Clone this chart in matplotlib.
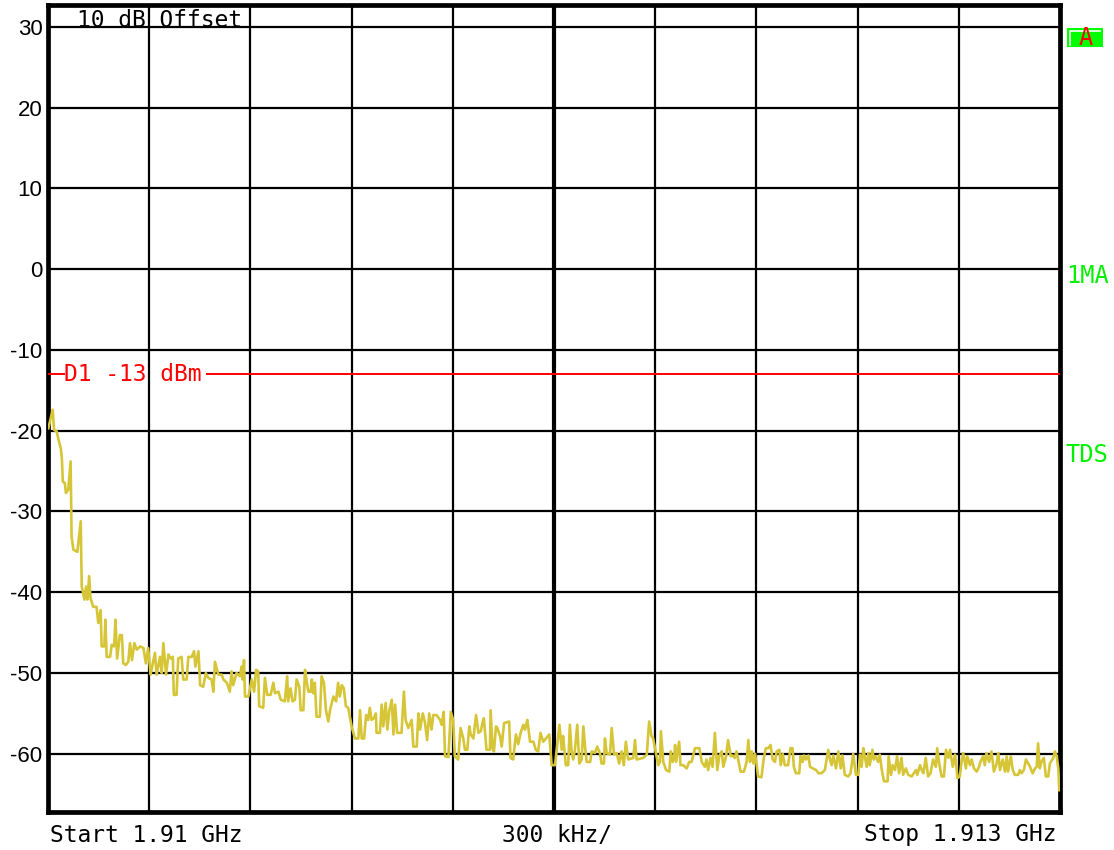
import matplotlib
matplotlib.use('Agg')
import matplotlib.pyplot as plt
from matplotlib.patches import Rectangle
from matplotlib.lines import Line2D
import numpy as np

# sweep: start 1.91 GHz, 300 kHz/div, 10 div
start_mhz = 1910.0
stop_mhz = 1913.0
y_ticks = [30, 20, 10, 0, -10, -20, -30, -40, -50, -60]
limit_dbm = -13

# trace, offset from start in kHz and level in dBm
trace_khz = [
    1, 14, 18, 26, 31, 38, 41, 44, 50, 53, 60, 67, 70, 75, 87, 97, 100, 108, 113, 117,
    122, 126, 134, 144, 149, 156, 159, 167, 170, 174, 184, 189, 196, 200, 205, 213, 219, 223, 231, 238,
    243, 249, 256, 263, 273, 283, 290, 297, 304, 317, 322, 332, 337, 342, 350, 357, 364, 370, 373, 381,
    386, 396, 401, 411, 416, 426, 433, 437, 446, 451, 460, 468, 475, 485, 490, 495, 505, 515, 520, 530,
    539, 544, 549, 559, 569, 574, 577, 581, 584, 594, 604, 611, 617, 623, 626, 638, 643, 650, 660, 668,
    673, 683, 690, 702, 709, 712, 719, 725, 732, 737, 745, 749, 757, 762, 767, 772, 779, 782, 786, 791,
    796, 806, 811, 818, 824, 831, 836, 846, 854, 860, 865, 871, 877, 883, 890, 900, 910, 920, 925, 930,
    937, 943, 949, 954, 959, 966, 972, 974, 984, 989, 994, 1001, 1006, 1012, 1019, 1024, 1029, 1035, 1048, 1055,
    1060, 1068, 1078, 1083, 1093, 1098, 1103, 1111, 1117, 1124, 1130, 1137, 1142, 1152, 1162, 1167, 1173, 1177, 1187, 1194,
    1201, 1206, 1216, 1223, 1231, 1236, 1243, 1249, 1253, 1261, 1269, 1276, 1283, 1289, 1292, 1300, 1310, 1312, 1318, 1322,
    1328, 1332, 1340, 1345, 1352, 1367, 1371, 1379, 1387, 1394, 1401, 1409, 1414, 1421, 1429, 1439, 1446, 1453, 1460, 1468,
    1476, 1486, 1493, 1503, 1508, 1516, 1523, 1527, 1535, 1542, 1547, 1552, 1557, 1562, 1569, 1575, 1582, 1587, 1592, 1597,
    1607, 1612, 1621, 1628, 1636, 1641, 1648, 1651, 1656, 1666, 1671, 1678, 1686, 1693, 1700, 1707, 1713, 1720, 1735, 1740,
    1745, 1765, 1775, 1782, 1789, 1794, 1802, 1809, 1814, 1817, 1824, 1832, 1842, 1846, 1852, 1856, 1859, 1862, 1871, 1875,
    1883, 1893, 1901, 1908, 1918, 1931, 1938, 1947, 1952, 1957, 1964, 1970, 1977, 1984, 1990, 1997, 2002, 2010, 2016, 2024,
    2029, 2036, 2041, 2046, 2053, 2063, 2071, 2076, 2081, 2086, 2091, 2096, 2101, 2105, 2115, 2122, 2128, 2135, 2142, 2148,
    2155, 2160, 2168, 2172, 2178, 2184, 2194, 2201, 2207, 2211, 2217, 2227, 2231, 2237, 2241, 2247, 2254, 2259, 2267, 2277,
    2284, 2293, 2303, 2308, 2313, 2318, 2323, 2328, 2336, 2343, 2350, 2355, 2362, 2372, 2379, 2387, 2395, 2402, 2407, 2412,
    2417, 2422, 2427, 2432, 2436, 2444, 2448, 2454, 2461, 2466, 2471, 2478, 2489, 2492, 2499, 2504, 2511, 2517, 2523, 2530,
    2535, 2543, 2550, 2560, 2567, 2573, 2577, 2585, 2590, 2595, 2602, 2609, 2616, 2624, 2632, 2636, 2642, 2649, 2656, 2662,
    2669, 2674, 2682, 2689, 2696, 2703, 2708, 2713, 2721, 2725, 2733, 2738, 2745, 2753, 2760, 2764, 2772, 2777, 2782, 2790,
    2797, 2804, 2812, 2817, 2822, 2830, 2837, 2842, 2846, 2854, 2860, 2866, 2876, 2881, 2886, 2893, 2899, 2906, 2911, 2919,
    2926, 2931, 2935, 2940, 2945, 2952, 2958, 2965, 2970, 2980, 2985, 2990, 2995, 2998,
]
trace_dbm = [
    -19.7, -17.4, -19.9, -20.1, -21.1, -22.2, -23.4, -26.3, -26.5, -27.7, -27.3, -23.8, -33.1, -34.7, -35.0, -31.2, -39.3, -40.9, -39.3, -40.9,
    -38.0, -40.7, -41.8, -41.8, -43.8, -42.2, -46.7, -46.7, -43.4, -48.0, -48.0, -46.5, -46.7, -43.4, -48.2, -45.3, -45.3, -48.8, -49.0, -48.6,
    -46.3, -48.4, -46.3, -47.1, -46.7, -46.9, -48.8, -46.9, -50.2, -47.5, -50.2, -48.0, -50.0, -46.3, -50.2, -47.7, -48.2, -48.0, -52.7, -52.7,
    -48.2, -48.0, -50.8, -50.8, -48.0, -48.0, -47.3, -49.2, -47.3, -51.5, -51.7, -50.0, -50.6, -50.8, -52.3, -48.6, -50.2, -50.2, -50.8, -51.2,
    -52.3, -49.8, -51.5, -50.0, -50.4, -49.2, -50.8, -48.4, -52.9, -52.9, -50.8, -52.3, -49.6, -49.8, -54.1, -54.3, -50.6, -52.7, -52.7, -51.2,
    -52.5, -52.3, -53.3, -53.5, -50.4, -53.5, -51.9, -53.5, -53.3, -50.8, -51.7, -54.6, -54.6, -49.6, -51.1, -52.3, -52.3, -50.8, -52.5, -51.2,
    -55.4, -55.4, -50.4, -51.2, -54.6, -56.0, -54.6, -52.9, -53.5, -51.2, -52.9, -51.5, -51.9, -54.1, -54.3, -56.6, -58.1, -58.1, -54.6, -58.1,
    -58.1, -55.2, -55.8, -54.3, -55.8, -55.6, -55.0, -57.4, -57.4, -53.9, -56.6, -53.7, -57.0, -54.6, -53.3, -57.6, -53.9, -57.4, -57.4, -52.3,
    -55.8, -56.8, -55.8, -59.1, -59.1, -55.0, -57.0, -55.0, -56.0, -58.3, -55.0, -57.0, -55.2, -55.2, -55.8, -56.4, -54.8, -60.3, -60.4, -54.8,
    -55.8, -60.3, -60.7, -56.8, -58.1, -59.5, -59.5, -56.6, -57.6, -58.1, -55.2, -57.4, -57.2, -56.0, -55.6, -59.5, -59.5, -54.6, -59.3, -59.7,
    -56.6, -56.8, -57.8, -59.1, -56.2, -56.0, -60.5, -60.7, -57.6, -58.8, -57.4, -56.4, -57.0, -55.8, -58.5, -58.5, -59.5, -59.7, -57.4, -58.5,
    -58.1, -57.6, -61.4, -61.4, -59.5, -56.4, -59.5, -57.8, -61.4, -61.4, -56.4, -59.7, -60.7, -59.5, -56.4, -61.2, -60.7, -56.6, -59.1, -61.0,
    -61.0, -59.7, -59.9, -59.1, -59.9, -61.2, -61.2, -58.1, -59.9, -60.1, -56.8, -60.1, -59.9, -61.2, -59.7, -61.4, -58.5, -60.7, -60.5, -58.3,
    -60.7, -60.5, -60.1, -56.0, -57.8, -58.1, -59.9, -61.4, -61.0, -57.2, -61.0, -62.0, -62.2, -59.7, -61.0, -60.5, -58.9, -61.0, -58.5, -61.4,
    -61.4, -61.8, -61.0, -61.0, -59.3, -59.3, -61.0, -61.6, -60.7, -62.0, -60.5, -61.6, -57.4, -62.0, -60.3, -59.7, -61.6, -60.3, -58.3, -60.3,
    -60.2, -60.5, -59.7, -60.7, -62.2, -62.2, -61.0, -58.3, -61.0, -59.7, -61.2, -60.0, -61.4, -62.8, -62.9, -60.5, -59.3, -59.3, -58.9, -60.7,
    -61.0, -59.7, -59.5, -61.4, -60.0, -61.4, -61.4, -59.3, -59.3, -61.6, -62.4, -62.4, -60.3, -61.0, -60.2, -60.7, -60.2, -61.6, -61.8, -62.0,
    -62.4, -62.4, -62.0, -60.7, -59.5, -60.7, -61.4, -60.2, -61.8, -59.7, -61.8, -60.2, -62.6, -62.8, -62.4, -60.0, -62.6, -62.6, -60.1, -61.6,
    -59.3, -60.5, -61.6, -59.9, -61.4, -59.5, -60.7, -60.3, -61.0, -60.1, -61.8, -63.4, -63.4, -60.3, -62.6, -61.4, -62.0, -60.3, -62.4, -60.5,
    -62.6, -61.8, -62.6, -62.8, -62.4, -62.0, -62.6, -61.4, -62.0, -62.4, -60.5, -62.8, -62.4, -60.7, -61.6, -59.3, -61.2, -62.8, -62.8, -59.5,
    -60.5, -59.5, -61.6, -60.1, -63.0, -62.8, -61.0, -59.9, -61.8, -60.3, -61.4, -60.7, -61.8, -62.2, -61.6, -61.0, -60.3, -61.4, -59.9, -61.0,
    -59.7, -62.2, -61.2, -59.9, -62.0, -60.7, -62.2, -60.3, -62.2, -60.3, -62.0, -62.6, -62.6, -62.0, -62.4, -62.0, -60.7, -61.2, -61.6, -62.4,
    -61.8, -61.6, -58.7, -61.8, -61.0, -60.5, -62.8, -62.8, -61.2, -60.5, -59.7, -60.3, -61.8, -64.5,
]

trace_color = '#d6c637'
green = '#00f000'
mono = ['DejaVu Sans Mono']

fig = plt.figure(figsize=(11.14, 8.5), dpi=100)
ax = fig.add_axes([48 / 1114, 38 / 850, 1012 / 1114, 807 / 850])

freq = start_mhz + np.array(trace_khz) / 1000.0
ax.plot(freq, trace_dbm, color=trace_color, lw=1.9, zorder=3)

ax.set_xlim(start_mhz, stop_mhz)
ax.set_ylim(-67.2, 32.7)

# graticule
for k in range(1, 10):
    ax.axvline(start_mhz + 0.3 * k, color='black', lw=3.0 if k == 5 else 1.6, zorder=2)
for v in y_ticks:
    ax.axhline(v, color='black', lw=1.6, zorder=2)

# display line D1
ax.axhline(limit_dbm, xmax=0.016, color='red', lw=1.4, zorder=3)
ax.axhline(limit_dbm, xmin=0.157, color='red', lw=1.4, zorder=3)
ax.text(0.016, limit_dbm, 'D1 -13 dBm', transform=ax.get_yaxis_transform(),
        color='red', family=mono, fontsize=16.5, va='center', ha='left')

ax.text(0.029, 0.981, '10 dB Offset', transform=ax.transAxes, family=mono,
        fontsize=16.5, va='center', ha='left')

ax.set_xticks([])
ax.set_yticks(y_ticks)
ax.set_yticklabels([str(v) for v in y_ticks], family='Liberation Sans', fontsize=16)
ax.tick_params(axis='y', length=0, pad=4)
for s in ax.spines.values():
    s.set_linewidth(3.4)

# labels under the screen
fig.text(50 / 1114, 1 - 835 / 850, 'Start 1.91 GHz', family=mono, fontsize=16.5, va='center', ha='left')
fig.text(557 / 1114, 1 - 835 / 850, '300 kHz/', family=mono, fontsize=16.5, va='center', ha='center')
fig.text(1056 / 1114, 1 - 835 / 850, 'Stop 1.913 GHz', family=mono, fontsize=16.5, va='center', ha='right')

# right-hand side annotations
fig.text(1066 / 1114, 1 - 276 / 850, '1MA', family=mono, fontsize=17, color=green, va='center', ha='left')
fig.text(1066 / 1114, 1 - 455 / 850, 'TDS', family=mono, fontsize=17, color=green, va='center', ha='left')
fig.patches.append(Rectangle((1067 / 1114, 1 - 47 / 850), 36 / 1114, 19 / 850,
                             transform=fig.transFigure, facecolor='#00ff00', edgecolor='none'))
fig.lines.append(Line2D([1070 / 1114, 1070 / 1114, 1100 / 1114], [1 - 45 / 850, 1 - 31 / 850, 1 - 31 / 850],
                        transform=fig.transFigure, color='white', lw=1.2))
fig.text(1086 / 1114, 1 - 38 / 850, 'A', family=mono, fontsize=17, color='red', va='center', ha='center')

plt.savefig('out.png', dpi=100)
